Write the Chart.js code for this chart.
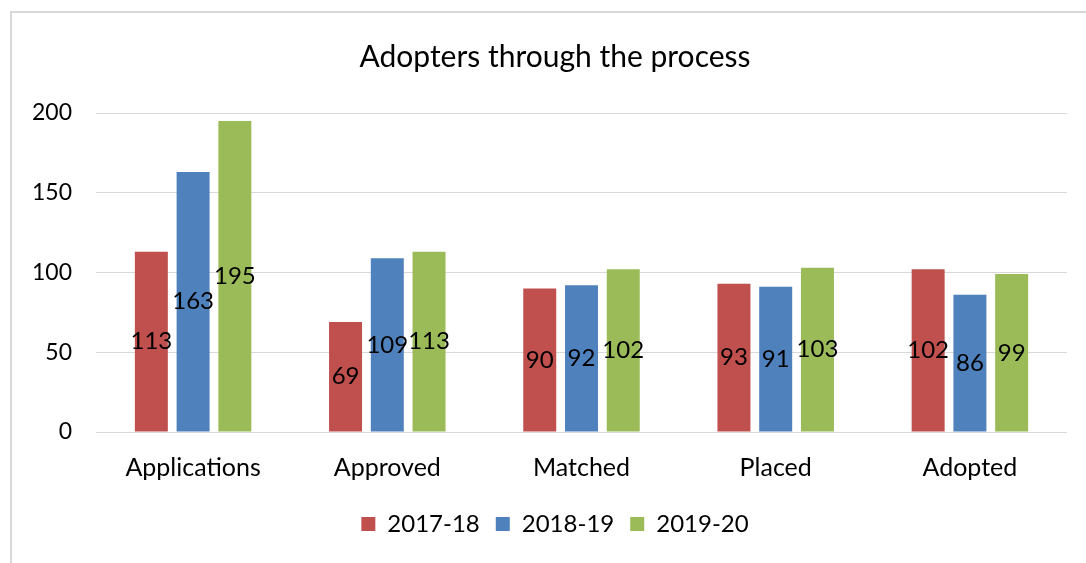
<!DOCTYPE html>
<html>
<head>
<meta charset="utf-8">
<script src="https://cdn.jsdelivr.net/npm/chart.js@4/dist/chart.umd.min.js"></script>
<style>
  html, body { margin: 0; padding: 0; background: #fff; overflow: hidden; }
  #marco {
    position: absolute; left: 10px; top: 11px; width: 1088px; height: 560px;
    border-top: 2px solid #d9d9d9; border-left: 2px solid #d9d9d9;
  }
  #grafico { display: block; }
</style>
</head>
<body>
<div id="marco">
  <canvas id="grafico" width="1086" height="552"></canvas>
</div>
<script>
// Datos del grafico
var categorias = ['Applications', 'Approved', 'Matched', 'Placed', 'Adopted'];
var serie1718 = [113, 69, 90, 93, 102];
var serie1819 = [163, 109, 92, 91, 86];
var serie1920 = [195, 113, 102, 103, 99];
var nombresSeries = ['2017-18', '2018-19', '2019-20'];
var ticksY = [0, 50, 100, 150, 200];

var fuente = 'Lato, "DejaVu Sans", sans-serif';

// Plugin para escribir el valor en el centro de cada barra
var etiquetasBarras = {
  id: 'etiquetasBarras',
  afterDatasetsDraw: function(chart) {
    var ctx = chart.ctx;
    ctx.save();
    ctx.font = '24px ' + fuente;
    ctx.fillStyle = '#000';
    ctx.textAlign = 'center';
    ctx.textBaseline = 'middle';
    chart.data.datasets.forEach(function(ds, i) {
      var meta = chart.getDatasetMeta(i);
      meta.data.forEach(function(barra, j) {
        var p = barra.getProps(['x', 'y', 'base'], true);
        ctx.fillText(ds.data[j], p.x, (p.y + p.base) / 2);
      });
    });
    ctx.restore();
  }
};

new Chart(document.getElementById('grafico'), {
  type: 'bar',
  data: {
    labels: categorias,
    datasets: [
      { label: nombresSeries[0], data: serie1718, backgroundColor: '#C0504D' },
      { label: nombresSeries[1], data: serie1819, backgroundColor: '#4F81BD' },
      { label: nombresSeries[2], data: serie1920, backgroundColor: '#9BBB59' }
    ]
  },
  options: {
    responsive: false,
    animation: false,
    layout: { padding: { left: 0, right: 0, bottom: 19 } },
    datasets: { bar: { categoryPercentage: 0.645, barPercentage: 0.79 } },
    plugins: {
      title: {
        display: true,
        text: 'Adopters through the process',
        color: '#000',
        font: { family: fuente, size: 30, weight: 'normal' },
        padding: { top: 26, bottom: 38 }
      },
      legend: {
        position: 'bottom',
        labels: {
          color: '#000',
          font: { family: fuente, size: 24 },
          boxWidth: 14,
          boxHeight: 14,
          padding: 16
        }
      },
      tooltip: { enabled: false }
    },
    scales: {
      x: {
        grid: { display: false },
        border: { display: false },
        ticks: { color: '#000', font: { family: fuente, size: 25 }, padding: 13 }
      },
      y: {
        min: 0,
        max: 200,
        afterFit: function(escala) { escala.width = 84; },
        afterBuildTicks: function(escala) {
          escala.ticks = ticksY.map(function(v) { return { value: v }; });
        },
        grid: { color: '#d9d9d9', lineWidth: 1, drawTicks: false },
        border: { display: false },
        ticks: { color: '#000', font: { family: fuente, size: 23 }, padding: 24 }
      },
      // eje vacio a la derecha, solo para dejar margen
      margen: {
        type: 'linear',
        position: 'right',
        min: 0,
        max: 200,
        afterFit: function(escala) { escala.width = 31; },
        grid: { display: false },
        border: { display: false },
        ticks: { display: false }
      }
    }
  },
  plugins: [etiquetasBarras]
});
</script>
</body>
</html>
